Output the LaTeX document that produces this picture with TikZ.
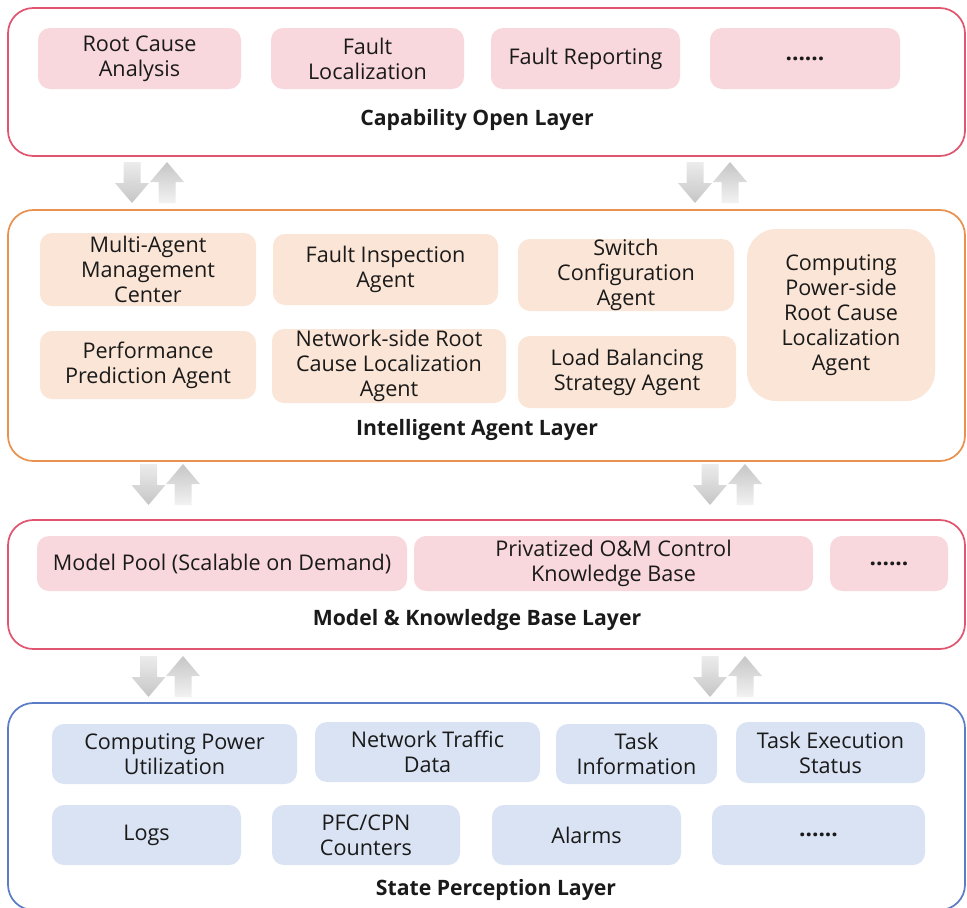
\documentclass[tikz,border=0pt]{standalone}
\usepackage{fontspec}
\setmainfont{Open Sans}
\usepackage{xcolor}
\usepackage{tikz}
\usetikzlibrary{positioning}

\definecolor{capred}{HTML}{E05670}
\definecolor{pinkfill}{HTML}{F8D8DD}
\definecolor{agentorange}{HTML}{E9914F}
\definecolor{peachfill}{HTML}{FBE5D6}
\definecolor{stateblue}{HTML}{5B7CC6}
\definecolor{bluefill}{HTML}{DAE3F3}
\definecolor{inktext}{HTML}{1A1A1A}

\begin{document}
\begin{tikzpicture}[x=0.75pt, y=-0.75pt, font=\fontsize{16.2}{18.8}\selectfont, text=inktext,
    sz/.style 2 args={minimum width=#1*0.75pt, minimum height=#2*0.75pt}]
    % Define styles
    \tikzstyle{layer}=[draw, line width=1.3pt, rounded corners=19pt, fill=white, inner sep=0pt]
    \tikzstyle{item}=[rounded corners=9pt, inner sep=0pt, align=center]
    \tikzstyle{pinkitem}=[item, fill=pinkfill]
    \tikzstyle{peachitem}=[item, fill=peachfill]
    \tikzstyle{blueitem}=[item, fill=bluefill]
    \tikzstyle{title}=[font=\fontsize{15.9}{18.8}\selectfont\bfseries]
    \tikzstyle{dots}=[font=\fontsize{17}{18.8}\selectfont\bfseries]

    \useasboundingbox (0,0) rectangle (967,907);

    % Draw the layers
    \node[layer, draw=capred, sz={957}{148}] (cap) at (486.5,82) {};
    \node[layer, draw=agentorange, sz={957}{251}] (agent) at (486.5,335.5) {};
    \node[layer, draw=capred, sz={957}{129}] (model) at (486.5,584.5) {};
    \node[layer, draw=stateblue, sz={957}{207}] (state) at (486.5,806.5) {};

    % Capability open layer
    \node[pinkitem, sz={203}{61}] (rca) at (139.5,58.5) {Root Cause\\Analysis};
    \node[pinkitem, sz={193}{61}] (floc) at (367.5,58.5) {Fault\\Localization};
    \node[pinkitem, sz={189}{61}] (frep) at (585.5,58.5) {Fault Reporting};
    \node[pinkitem, dots, sz={190}{61}] (capdots) at (805,58.5) {......};
    \node[title] (captitle) at (477,119.5) {Capability Open Layer};

    % Intelligent agent layer
    \node[peachitem, sz={216}{73}] (mamc) at (148,269.5) {Multi-Agent\\Management\\Center};
    \node[peachitem, sz={225}{71}] (fia) at (385.5,269.5) {Fault Inspection\\Agent};
    \node[peachitem, sz={216}{72}] (sca) at (626,275) {Switch\\Configuration\\Agent};
    \node[peachitem, sz={188}{172}, rounded corners=22pt] (cprl) at (841,315)
        {Computing\\Power-side\\Root Cause\\Localization\\Agent};
    \node[peachitem, sz={216}{68}] (ppa) at (148,365) {Performance\\Prediction Agent};
    \node[peachitem, sz={234}{74}] (nrl) at (389,366) {Network-side Root\\Cause Localization\\Agent};
    \node[peachitem, sz={218}{72}] (lbs) at (627,372) {Load Balancing\\Strategy Agent};
    \node[title] (agenttitle) at (477,429.5) {Intelligent Agent Layer};

    % Model & knowledge base layer
    \node[pinkitem, sz={370}{55}] (mpool) at (222,563.5) {Model Pool (Scalable on Demand)};
    \node[pinkitem, sz={399}{55}] (okb) at (613.5,563.5) {Privatized O\&M Control\\Knowledge Base};
    \node[pinkitem, dots, sz={118}{55}] (modeldots) at (889,563.5) {......};
    \node[title] (modeltitle) at (477,619.5) {Model \& Knowledge Base Layer};

    % State perception layer
    \node[blueitem, sz={245}{60}] (cpu) at (174.5,754) {Computing Power\\Utilization};
    \node[blueitem, sz={225}{60}] (ntd) at (427.5,752) {Network Traffic\\Data};
    \node[blueitem, sz={161}{60}] (tinf) at (636.5,754) {Task\\Information};
    \node[blueitem, sz={189}{61}] (tes) at (830.5,752.5) {Task Execution\\Status};
    \node[blueitem, sz={189}{60}] (logs) at (146.5,835) {Logs};
    \node[blueitem, sz={188}{60}] (pfc) at (366,835) {PFC/CPN\\Counters};
    \node[blueitem, sz={189}{60}] (alarms) at (586.5,835) {Alarms};
    \node[blueitem, dots, sz={213}{60}] (statedots) at (818.5,835) {......};
    \node[title] (statetitle) at (496,889.5) {State Perception Layer};

    % Block arrows between the layers
    \foreach \dx/\ux/\ty in {132/167/162, 695/730/162, 148.5/183/464, 710/745/464, 148.5/183/656, 710/745/656} {
        \shade[top color=gray!15, bottom color=gray!45]
            ({\dx-8.5},\ty) -- ({\dx+8.5},\ty) -- ({\dx+8.5},\ty+21) -- ({\dx+17},\ty+21)
            -- (\dx,\ty+41) -- ({\dx-17},\ty+21) -- ({\dx-8.5},\ty+21) -- cycle;
        \shade[top color=gray!45, bottom color=gray!10]
            (\ux,\ty) -- ({\ux+17},\ty+20) -- ({\ux+8.5},\ty+20) -- ({\ux+8.5},\ty+41)
            -- ({\ux-8.5},\ty+41) -- ({\ux-8.5},\ty+20) -- ({\ux-17},\ty+20) -- cycle;
    }

\end{tikzpicture}
\end{document}
